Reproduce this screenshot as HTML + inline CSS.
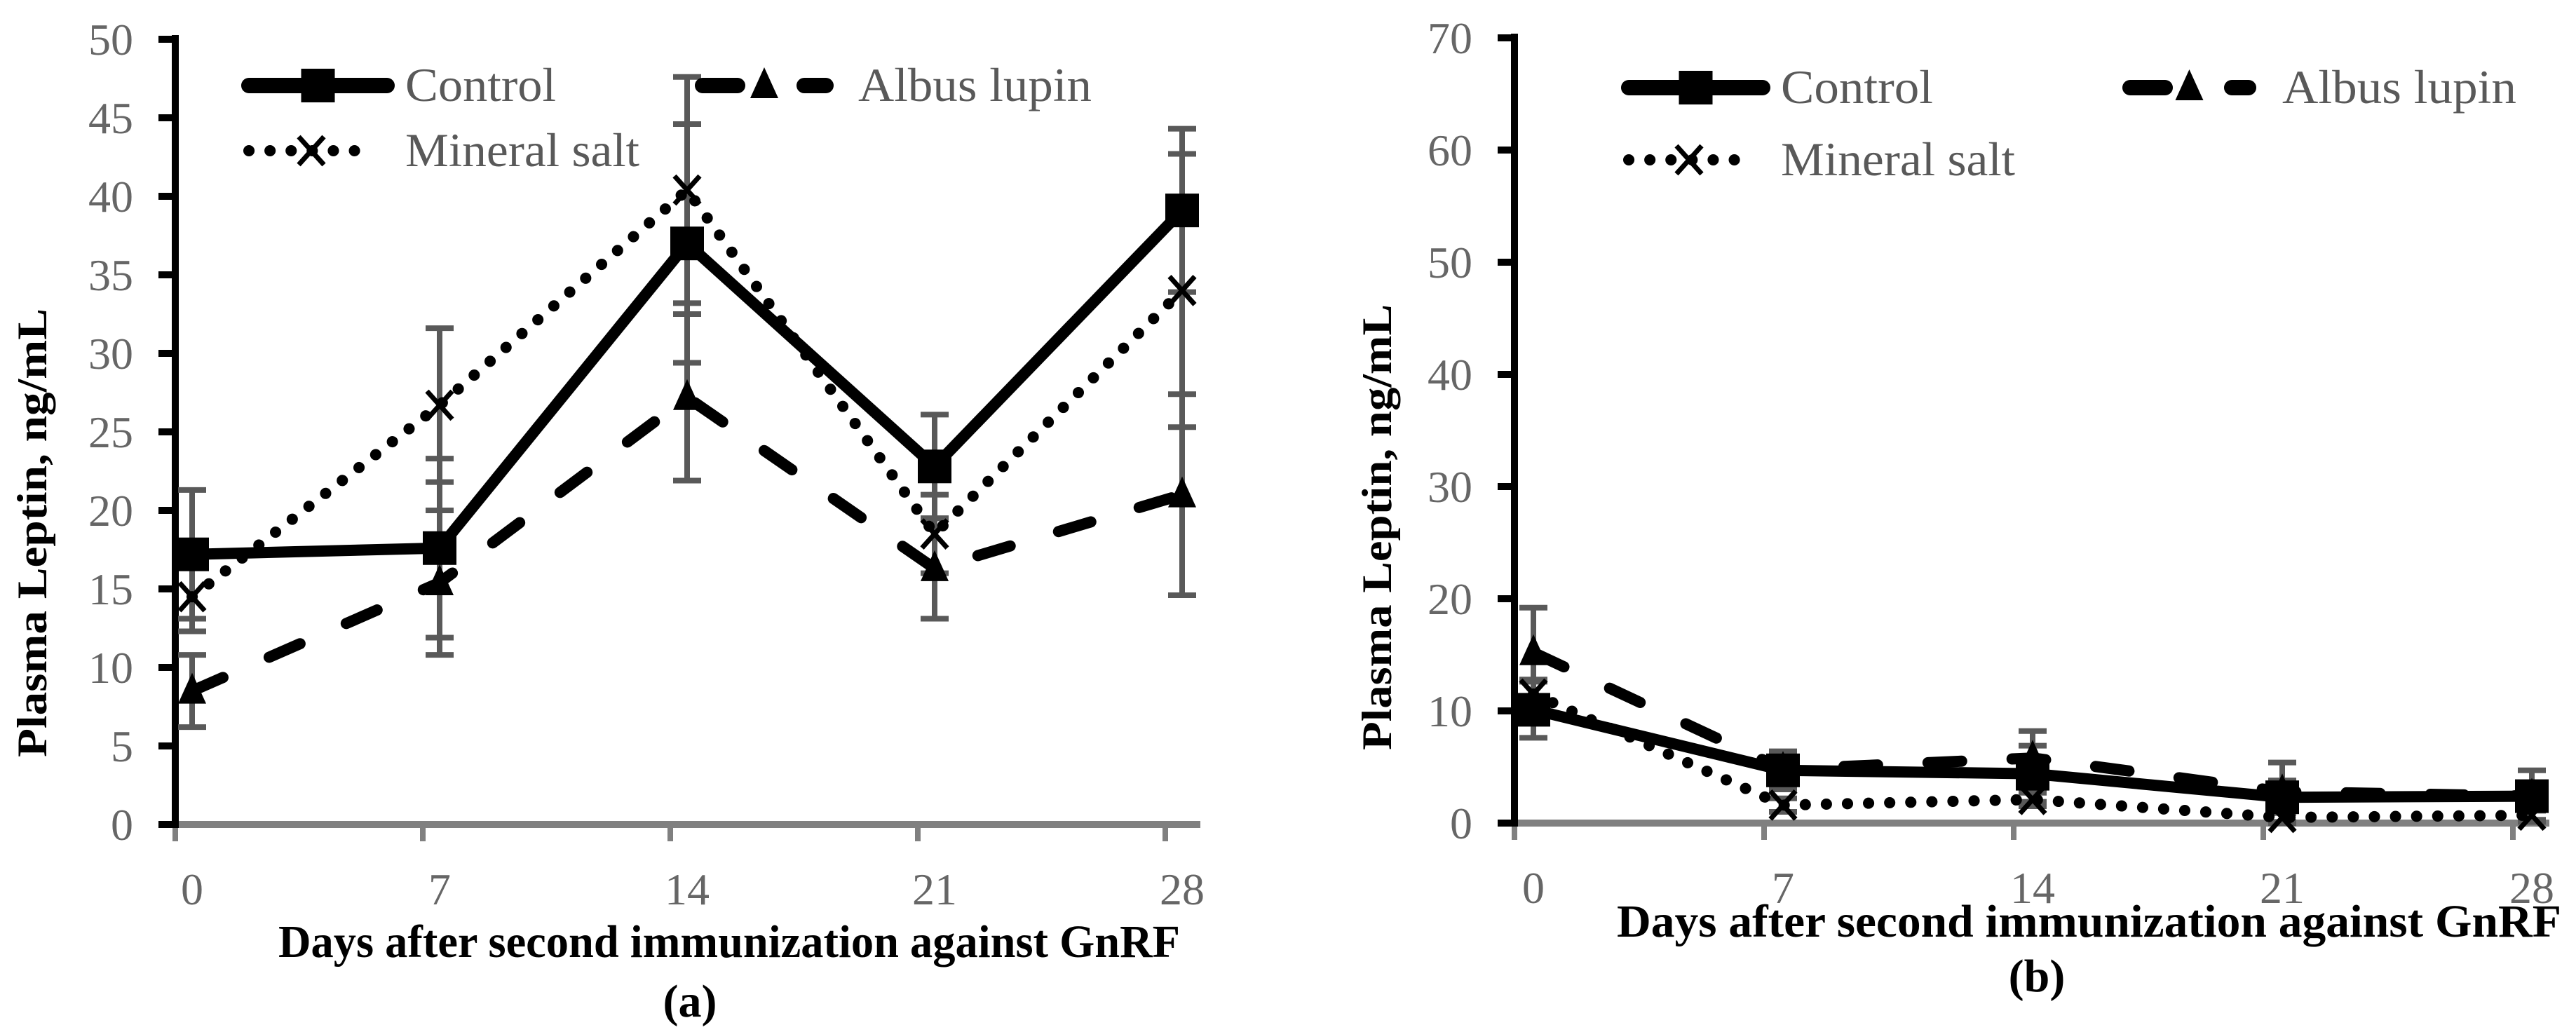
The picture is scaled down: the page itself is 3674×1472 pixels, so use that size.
<!DOCTYPE html>
<html><head><meta charset="utf-8"><style>
html,body{margin:0;padding:0;background:#fff;}
svg{display:block;}
text{font-family:"Liberation Serif",serif;}
</style></head><body>
<svg id="fig" xmlns="http://www.w3.org/2000/svg" width="3674" height="1472" viewBox="0 0 3674 1472"></svg>
<script>
// ---- data ----
const categories = ["0","7","14","21","28"];
const ticksA = [0,5,10,15,20,25,30,35,40,45,50];
const ticksB = [0,10,20,30,40,50,60,70];
const controlA = [17.2,17.6,37.0,22.8,39.1];
const controlAErr = [4.1,5.7,7.6,3.3,5.2];
const albusA = [8.5,15.4,27.2,16.3,21.0];
const albusAErr = [2.3,4.6,5.3,3.2,6.4];
const mineralA = [14.5,26.7,40.4,18.5,34.0];
const mineralAErr = [2.2,4.9,7.2,2.5,8.7];
const controlB = [10.1,4.7,4.4,2.3,2.4];
const controlBErr = [2.5,1.7,2.5,3.1,2.3];
const albusB = [15.2,4.8,5.8,2.8,2.4];
const albusBErr = [4.0,1.2,2.4,1.0,1.0];
const mineralB = [11.5,1.6,2.1,0.5,0.7];
const mineralBErr = [1.3,0.6,0.6,0.4,0.4];

const NS="http://www.w3.org/2000/svg";
const svg=document.getElementById('fig');
function mk(tag,attrs,parent){const e=document.createElementNS(NS,tag);for(const k in attrs)e.setAttribute(k,attrs[k]);(parent||svg).appendChild(e);return e;}

function panel(cfg){
  const g=mk('g',{});
  
  
  const ymax=cfg.ticks[cfg.ticks.length-1];
  const yS=v=>cfg.y0-(v/ymax)*(cfg.y0-cfg.yTop);
  const xS=i=>cfg.p0+i*cfg.step;
  // y ticks + labels
  cfg.ticks.forEach(t=>{
    const tk=mk('line',{x1:cfg.ax-24,x2:cfg.ax,y1:yS(t),y2:yS(t),stroke:'#000','stroke-width':10},g);
    
    
    const tl=mk('text',{x:cfg.labR,y:yS(t)+22,'text-anchor':'end','font-size':64,fill:'#666'},g);
    tl.textContent=t;
    
    
  });
  // x axis
  const xa=mk('line',{x1:cfg.ax,x2:cfg.axEnd,y1:cfg.y0,y2:cfg.y0,stroke:'#808080','stroke-width':10},g);
  
  
  categories.forEach((c,i)=>{
    const tx=cfg.ax+i*cfg.step;
    const tk=mk('line',{x1:tx,x2:tx,y1:cfg.y0,y2:cfg.y0+24,stroke:'#808080','stroke-width':8},g);
    
    
    const tl=mk('text',{x:xS(i),y:cfg.xLabY,'text-anchor':'middle','font-size':64,fill:'#666'},g);
    tl.textContent=c;
    
    
  });
  // y axis
  const ya=mk('line',{x1:cfg.ax,x2:cfg.ax,y1:cfg.yTop-6,y2:cfg.y0+5,stroke:'#000','stroke-width':10},g);
  
  
  // error bars
  cfg.series.forEach(s=>{
    s.vals.forEach((v,i)=>{
      const x=xS(i),t=yS(v+s.err[i]),b=yS(Math.max(0,v-s.err[i]));
      const eb=mk('path',{d:`M${x},${t}V${b}M${x-20},${t}H${x+20}M${x-20},${b}H${x+20}`,stroke:'#595959','stroke-width':8,fill:'none'},g);
      
      
    });
  });
  // lines & markers
  cfg.series.forEach(s=>{
    const pts=s.vals.map((v,i)=>xS(i)+','+yS(v)).join(' ');
    const ln=mk('polyline',{points:pts,fill:'none',stroke:'#000','stroke-width':s.w,'stroke-dasharray':s.dash,'stroke-linecap':s.cap,'stroke-linejoin':'round'},g);
    
    
    s.vals.forEach((v,i)=>{
      const m=marker(g,s.marker,xS(i),yS(v));
      
      
    });
  });
  // legend
  cfg.legend.forEach(L=>{
    const s=cfg.series.find(q=>q.key===L.key);
    const lg=mk('g',{},g);
    
    
    mk('line',{x1:L.x1+12,x2:L.x2-12,y1:L.y,y2:L.y,stroke:'#000','stroke-width':s.key==='mineral'?16:22,'stroke-dasharray':s.key==='mineral'?'0.1 30':(s.key==='albus'?'50 95':'none'),'stroke-linecap':'round'},lg);
    marker(lg,s.marker,(L.x1+L.x2)/2,L.y);
    const t=mk('text',{x:L.tx,y:L.y+22,'font-size':68,fill:'#595959',textLength:L.tw,lengthAdjust:'spacingAndGlyphs'},lg);
    t.textContent=L.label;
  });
  // axis titles
  const xt=mk('text',{x:cfg.xtX,y:cfg.xtY,'font-size':66,'font-weight':'bold',fill:'#000',textLength:cfg.xtW,lengthAdjust:'spacingAndGlyphs'},g);
  xt.textContent='Days after second immunization against GnRF';
  
  
  const yt=mk('text',{x:0,y:0,'font-size':60,'font-weight':'bold',fill:'#000','text-anchor':'middle',textLength:cfg.ytW,lengthAdjust:'spacingAndGlyphs',transform:`translate(${cfg.ytX},${cfg.ytY}) rotate(-90)`},g);
  yt.textContent='Plasma Leptin, ng/mL';
  
  
  const cp=mk('text',{x:cfg.capX,y:cfg.capY,'font-size':66,'font-weight':'bold',fill:'#000','text-anchor':'middle'},g);
  cp.textContent=cfg.cap;
  
  
}
function marker(g,type,x,y){
  if(type==='square')return mk('rect',{x:x-24,y:y-24,width:48,height:48,fill:'#000'},g);
  if(type==='tri')return mk('path',{d:`M${x},${y-26}L${x+20},${y+18}L${x-20},${y+18}Z`,fill:'#000'},g);
  return mk('path',{d:`M${x-18},${y-20}L${x+18},${y+20}M${x+18},${y-20}L${x-18},${y+20}`,stroke:'#000','stroke-width':7,fill:'none'},g);
}
const sty={control:{w:16,dash:'none',cap:'butt',marker:'square'},albus:{w:16,dash:'48 72',cap:'round',marker:'tri'},mineral:{w:16,dash:'0.1 30',cap:'round',marker:'x'}};
function ser(key,vals,err){return Object.assign({key,vals,err},sty[key]);}
panel({name:'panel-a',ax:250,axEnd:1712,y0:1176,yTop:56,ticks:ticksA,p0:274,step:353,labR:190,xLabY:1290,
  series:[ser('mineral',mineralA,mineralAErr),ser('albus',albusA,albusAErr),ser('control',controlA,controlAErr)],
  legend:[{key:'control',x1:343,x2:564,y:122,tx:578,tw:215,label:'Control'},{key:'albus',x1:990,x2:1190,y:122,tx:1224,tw:333,label:'Albus lupin'},{key:'mineral',x1:343,x2:545,y:215,tx:578,tw:334,label:'Mineral salt'}],
  xtX:397,xtY:1365,xtW:1286,ytX:66,ytY:760,ytW:640,capX:984,capY:1450,cap:'(a)'});
panel({name:'panel-b',ax:2160,axEnd:3636,y0:1174,yTop:54,ticks:ticksB,p0:2187,step:356,labR:2100,xLabY:1288,
  series:[ser('mineral',mineralB,mineralBErr),ser('albus',albusB,albusBErr),ser('control',controlB,controlBErr)],
  legend:[{key:'control',x1:2311,x2:2526,y:125,tx:2540,tw:217,label:'Control'},{key:'albus',x1:3026,x2:3219,y:125,tx:3255,tw:334,label:'Albus lupin'},{key:'mineral',x1:2311,x2:2507,y:228,tx:2540,tw:334,label:'Mineral salt'}],
  xtX:2306,xtY:1336,xtW:1347,ytX:1984,ytY:752,ytW:636,capX:2905,capY:1414,cap:'(b)'});
</script>
</body></html>
